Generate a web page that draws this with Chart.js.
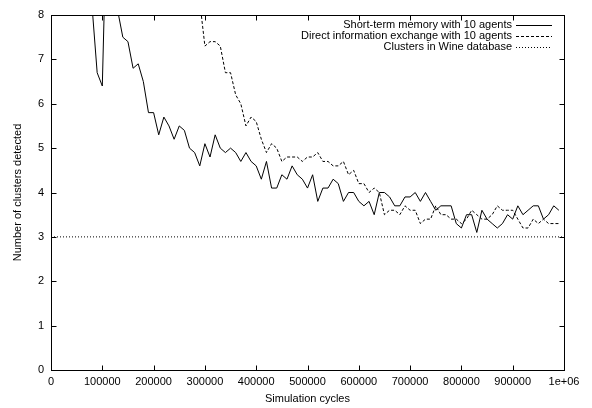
<!DOCTYPE html>
<html>
<head>
<meta charset="utf-8">
<title>Clusters detected</title>
<script src="https://cdn.jsdelivr.net/npm/chart.js@4"></script>
<style>
  html, body { margin: 0; padding: 0; background: #fff; }
</style>
</head>
<body>
<canvas id="clusterChart" width="592" height="408"></canvas>
<script>
// Simulation cycles (x) for the two agent runs
const cycles = [
  70000, 80000, 90000, 100000, 110000, 120000, 130000, 140000, 150000, 160000,
  170000, 180000, 190000, 200000, 210000, 220000, 230000, 240000, 250000, 260000,
  270000, 280000, 290000, 300000, 310000, 320000, 330000, 340000, 350000, 360000,
  370000, 380000, 390000, 400000, 410000, 420000, 430000, 440000, 450000, 460000,
  470000, 480000, 490000, 500000, 510000, 520000, 530000, 540000, 550000, 560000,
  570000, 580000, 590000, 600000, 610000, 620000, 630000, 640000, 650000, 660000,
  670000, 680000, 690000, 700000, 710000, 720000, 730000, 740000, 750000, 760000,
  770000, 780000, 790000, 800000, 810000, 820000, 830000, 840000, 850000, 860000,
  870000, 880000, 890000, 900000, 910000, 920000, 930000, 940000, 950000, 960000,
  970000, 980000, 990000
];

// Short-term memory with 10 agents
const shortTermMemory = [
  9.5, 8.2, 6.7, 6.4, 11, 10, 8.1, 7.5, 7.4, 6.8,
  6.9, 6.5, 5.8, 5.8, 5.3, 5.7, 5.5, 5.2, 5.5, 5.4,
  5.0, 4.9, 4.6, 5.1, 4.8, 5.3, 5.0, 4.9, 5.0, 4.9,
  4.7, 4.9, 4.7, 4.6, 4.3, 4.7, 4.1, 4.1, 4.4, 4.3,
  4.6, 4.4, 4.3, 4.1, 4.4, 3.8, 4.1, 4.1, 4.3, 4.2,
  3.8, 4.0, 4.0, 3.8, 3.7, 3.8, 3.5, 4.0, 4.0, 3.9,
  3.7, 3.7, 3.9, 3.9, 4.0, 3.8, 4.0, 3.8, 3.6, 3.7,
  3.7, 3.7, 3.3, 3.2, 3.5, 3.5, 3.1, 3.6, 3.4, 3.3,
  3.2, 3.3, 3.5, 3.4, 3.7, 3.5, 3.6, 3.7, 3.7, 3.4,
  3.5, 3.7, 3.6
];

// Direct information exchange with 10 agents (off the top of the plot early on)
const directExchange = [
  null, null, null, null, null, null, null, null, null, null,
  null, null, null, null, null, null, null, null, null, null,
  null, 10, 8.3, 7.3, 7.4, 7.4, 7.3, 6.7, 6.7, 6.2,
  6.0, 5.5, 5.7, 5.6, 5.2, 4.9, 5.1, 5.0, 4.7, 4.8,
  4.8, 4.8, 4.7, 4.8, 4.8, 4.9, 4.7, 4.7, 4.6, 4.6,
  4.7, 4.4, 4.5, 4.2, 4.2, 4.0, 4.1, 4.0, 3.5, 3.6,
  3.6, 3.5, 3.7, 3.6, 3.6, 3.3, 3.4, 3.4, 3.7, 3.5,
  3.5, 3.4, 3.4, 3.3, 3.4, 3.6, 3.5, 3.4, 3.4, 3.5,
  3.7, 3.6, 3.6, 3.6, 3.4, 3.2, 3.2, 3.4, 3.3, 3.4,
  3.3, 3.3, 3.3
];

// Reference: clusters in Wine database
const wineCycles = [0, 1000000];
const wineClusters = [3, 3];

const fontFamily = '"Liberation Sans", Arial, Helvetica, sans-serif';
const baseFont = { family: fontFamily, size: 11 };

function toPoints(xs, ys) {
  return xs.map((x, i) => ({ x: x, y: ys[i] }));
}

// Box around the plot with gnuplot-style inward ticks on all four sides
const frameTicks = {
  id: 'frameTicks',
  afterDatasetsDraw(chart) {
    const { ctx, chartArea: a, scales } = chart;
    const len = 5;
    ctx.save();
    ctx.strokeStyle = '#000';
    ctx.lineWidth = 1;
    const l = Math.round(a.left) + 0.5, r = Math.round(a.right) + 0.5;
    const t = Math.round(a.top) + 0.5, b = Math.round(a.bottom) + 0.5;
    ctx.strokeRect(l, t, r - l, b - t);
    ctx.beginPath();
    scales.x.ticks.forEach((tk) => {
      const px = Math.round(scales.x.getPixelForValue(tk.value)) + 0.5;
      ctx.moveTo(px, b); ctx.lineTo(px, b - len);
      ctx.moveTo(px, t); ctx.lineTo(px, t + len);
    });
    scales.y.ticks.forEach((tk) => {
      const py = Math.round(scales.y.getPixelForValue(tk.value)) + 0.5;
      ctx.moveTo(l, py); ctx.lineTo(l + len, py);
      ctx.moveTo(r, py); ctx.lineTo(r - len, py);
    });
    ctx.stroke();
    ctx.restore();
  }
};

// Key in the top right corner: right-aligned text, line sample after it
const gnuKey = {
  id: 'gnuKey',
  afterDraw(chart) {
    const ctx = chart.ctx;
    const textRight = 512;
    const sampleStart = 516, sampleEnd = 552;
    const rows = [25, 36, 47];
    ctx.save();
    ctx.font = '11px ' + fontFamily;
    ctx.textAlign = 'right';
    ctx.textBaseline = 'middle';
    chart.data.datasets.forEach((ds, i) => {
      ctx.fillStyle = '#000';
      ctx.fillText(ds.label, textRight, rows[i]);
      ctx.strokeStyle = ds.borderColor;
      ctx.lineWidth = 1;
      ctx.setLineDash(ds.borderDash || []);
      ctx.beginPath();
      ctx.moveTo(sampleStart, rows[i] + 0.5);
      ctx.lineTo(sampleEnd, rows[i] + 0.5);
      ctx.stroke();
    });
    ctx.restore();
  }
};

new Chart(document.getElementById('clusterChart'), {
  type: 'scatter',
  data: {
    datasets: [
      {
        label: 'Short-term memory with 10 agents',
        data: toPoints(cycles, shortTermMemory),
        showLine: true,
        borderColor: '#000',
        borderWidth: 1,
        pointRadius: 0,
        tension: 0,
        spanGaps: false
      },
      {
        label: 'Direct information exchange with 10 agents',
        data: toPoints(cycles, directExchange),
        showLine: true,
        borderColor: '#000',
        borderWidth: 1,
        borderDash: [3, 2],
        pointRadius: 0,
        tension: 0,
        spanGaps: false
      },
      {
        label: 'Clusters in Wine database',
        data: toPoints(wineCycles, wineClusters),
        showLine: true,
        borderColor: '#000',
        borderWidth: 1,
        borderDash: [1, 2],
        pointRadius: 0,
        tension: 0
      }
    ]
  },
  options: {
    responsive: false,
    animation: false,
    layout: { padding: { left: 0, top: 15, right: 28, bottom: 0 } },
    plugins: {
      legend: { display: false },
      tooltip: { enabled: false }
    },
    scales: {
      x: {
        type: 'linear',
        min: 0,
        max: 1000000,
        afterFit(scale) { scale.height = 38; },
        grid: { display: false, drawTicks: false },
        border: { display: false },
        ticks: {
          stepSize: 100000,
          padding: 5,
          maxRotation: 0,
          autoSkip: false,
          color: '#000',
          font: baseFont,
          callback: (v) => (v === 1000000 ? '1e+06' : String(v))
        },
        title: {
          display: true,
          text: 'Simulation cycles',
          color: '#000',
          font: baseFont,
          padding: { top: 0, bottom: 2 }
        }
      },
      y: {
        min: 0,
        max: 8,
        afterFit(scale) { scale.width = 51; },
        grid: { display: false, drawTicks: false },
        border: { display: false },
        ticks: {
          stepSize: 1,
          padding: 7,
          color: '#000',
          font: baseFont
        },
        title: {
          display: true,
          text: 'Number of clusters detected',
          color: '#000',
          font: baseFont,
          padding: { top: 11, bottom: 0 }
        }
      }
    }
  },
  plugins: [frameTicks, gnuKey]
});
</script>
</body>
</html>
